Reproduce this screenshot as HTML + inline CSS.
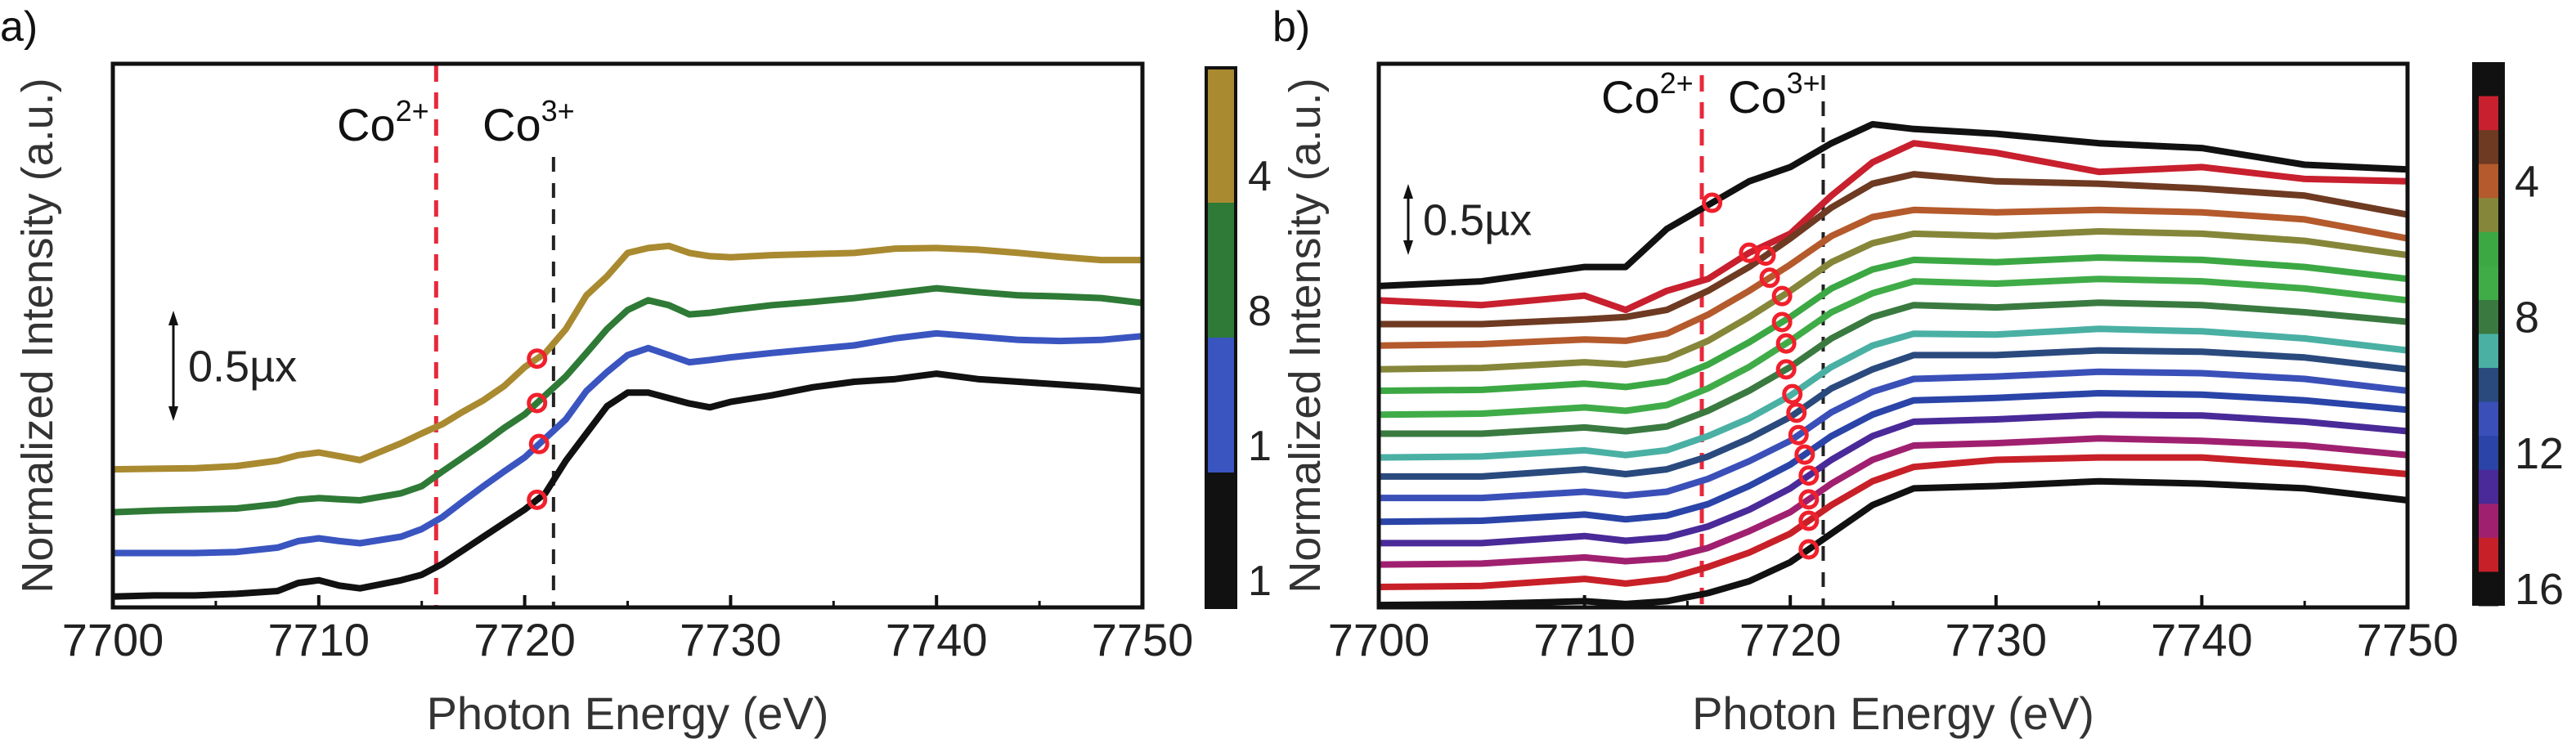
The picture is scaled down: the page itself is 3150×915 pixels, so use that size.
<!DOCTYPE html>
<html><head><meta charset="utf-8"><style>
html,body{margin:0;padding:0;background:#fff;}
svg{display:block;font-family:"Liberation Sans",Arial,sans-serif;}
</style></head><body>
<svg id="fig" width="3150" height="915" viewBox="0 0 3150 915" xmlns="http://www.w3.org/2000/svg">
<g id="pa"></g>
<g id="pb"></g>
</svg>
<script>
// ---------- Panel a data ----------
const energyA = [7700,7702,7704,7706,7708,7709,7710,7711,7712,7714,7715,7716,7717,7718,7719,7720,7721,7722,7723,7724,7725,7726,7727,7728,7729,7730,7732,7734,7736,7738,7740,7742,7744,7746,7748,7750];
const seriesA1 = [0.2,0.22,0.22,0.25,0.3,0.45,0.5,0.4,0.35,0.5,0.6,0.8,1.05,1.3,1.55,1.8,2.1,2.7,3.2,3.7,3.95,3.95,3.85,3.75,3.68,3.78,3.9,4.05,4.15,4.2,4.3,4.2,4.15,4.1,4.05,3.98];
const seriesA2 = [1.0,1.0,1.0,1.02,1.1,1.22,1.27,1.22,1.18,1.3,1.44,1.66,1.95,2.23,2.5,2.76,3.11,3.46,3.98,4.33,4.64,4.77,4.64,4.51,4.55,4.6,4.68,4.75,4.82,4.95,5.04,4.98,4.92,4.9,4.92,4.99];
const seriesA3 = [1.75,1.78,1.8,1.82,1.9,1.98,2.01,1.99,1.97,2.1,2.23,2.5,2.76,3.02,3.3,3.55,3.9,4.25,4.68,5.12,5.47,5.65,5.56,5.39,5.42,5.47,5.56,5.62,5.69,5.78,5.87,5.8,5.74,5.72,5.69,5.6];
const seriesA4 = [2.54,2.55,2.56,2.6,2.7,2.8,2.85,2.78,2.71,3.02,3.2,3.37,3.6,3.81,4.07,4.42,4.68,5.12,5.74,6.09,6.52,6.61,6.65,6.52,6.46,6.44,6.48,6.5,6.52,6.6,6.61,6.58,6.52,6.45,6.39,6.39];
const seriesAColors = ["#111111","#3a55c0","#2e7a36","#a98a30"];
const markerEA = [7720.6,7720.7,7720.6,7720.6];
const colorbarAColors = ["#a98a30","#2e7a36","#3a55c0","#111111"];
const colorbarALabels = ["4","8","1","1"];
const xTicks = [7700,7710,7720,7730,7740,7750];
const xMinor = [7705,7715,7725,7735,7745];

// ---------- Panel b data ----------
const energyB = [7700,7705,7710,7712,7714,7716,7718,7720,7722,7724,7726,7730,7735,7740,7745,7750];
const b1  = [67.5,68.5,71.5,71.5,79.5,84.5,89.5,92.5,97.5,101.5,100.5,99.5,97.5,96.5,93,92];
const b2  = [64.5,63.5,65.5,62.5,66.5,69,74.5,78.5,86.5,93.5,97.5,95.5,91.5,92.5,90,89.5];
const b3  = [59.5,59.5,60.5,61,62.5,66.5,71.5,77.5,84,89,91,89.5,89,88,86.5,82.5];
const b4  = [55,55.3,56.3,56,57.5,61.5,66.5,72,78,82,83.5,83,83.5,83,81.5,77.5];
const b5  = [50,50.3,51.5,51,52.3,56,61,66.5,72.5,76.5,78.5,78,79,78.5,77,74];
const b6  = [45.5,45.7,47,46.3,47.5,51,55.7,61,67,71,73,72.5,73.5,73,71.5,69];
const b7  = [40.5,40.7,42,41.3,42.5,46,50.5,56,62,66,68.5,68,69,68.5,67,64.5];
const b8  = [36.5,36.5,37.8,37,38,41.3,45.5,50.5,56.5,61,63.5,63,64,63.5,62,60];
const b9  = [31.5,31.7,33,32,33,36,39.7,44.5,50.5,55,57.5,57.3,58.5,58,56.5,54];
const b10 = [27.5,27.5,29,28,29,31.7,35.5,40,46,50,53,53,54,53.7,52.5,50];
const b11 = [23,23,24.3,23.5,24.3,27,30.7,35,41,45.3,48,48.5,49.5,49.2,48,45.5];
const b12 = [18,18.2,19.5,18.5,19.3,21.7,25.5,30,36,40.5,43.5,44,45,44.7,43.5,41.5];
const b13 = [13.5,13.5,15,14,14.7,17,20.5,25,31,36,39,39.5,40.5,40.3,39,37];
const b14 = [9,9.2,10.5,9.7,10.3,12.5,16,20,26,31,34,34.5,35.5,35,34,32];
const b15 = [4.3,4.5,6,5,6,8.5,11.5,15.5,21.5,26.5,29.5,31,31.5,31.5,30,28];
const b16 = [0.5,0.7,1.3,0.7,1.3,3,5.5,9.5,15.5,21.5,25,25.5,26.5,26,25,22.5];
const seriesBColors = ["#111111","#c8202e","#6e3a22","#b45a2c","#86863a","#3ca844","#40ac48","#3a7a40","#4ab0a4","#2a4a7e","#3a50b8","#2a44a8","#4a2a98","#a02070","#c82028","#111111"];
const markerEB = [7716.2,7718.0,7718.8,7719.0,7719.6,7719.6,7719.8,7719.8,7720.1,7720.3,7720.4,7720.7,7720.9,7720.9,7720.9,7720.9];
const colorbarBLabels = ["4","8","12","16"];
const colorbarBLabelIdx = [3,7,11,15];

const NS="http://www.w3.org/2000/svg";
function mk(parent,tag,attrs,txt){const e=document.createElementNS(NS,tag);for(const k in attrs)e.setAttribute(k,attrs[k]);if(txt!==undefined)e.textContent=txt;parent.appendChild(e);return e;}
function interp(xs,ys,x){for(let i=0;i<xs.length-1;i++){if(x>=xs[i]&&x<=xs[i+1]){const t=(x-xs[i])/(xs[i+1]-xs[i]);return ys[i]+t*(ys[i+1]-ys[i]);}}return ys[ys.length-1];}

function drawPanel(g,cfg){
  const {L,R,T,B,ymax}=cfg;
  const xS=e=>L+(e-7700)*(R-L)/50;
  const yS=v=>B-v*(B-T)/ymax;
  let l=mk(g,'line',{x1:xS(cfg.co2),x2:xS(cfg.co2),y1:cfg.co2Top,y2:B,stroke:'#e8283c','stroke-width':5,'stroke-dasharray':'20 13'});
  
  
  l=mk(g,'line',{x1:xS(cfg.co3),x2:xS(cfg.co3),y1:cfg.co3Top,y2:B,stroke:'#222','stroke-width':4,'stroke-dasharray':'18 14'});
  
  
  cfg.series.forEach((s,i)=>{
    const d=cfg.energy.map((e,j)=>(j?'L':'M')+xS(e).toFixed(1)+','+yS(s[j]).toFixed(1)).join(' ');
    const p=mk(g,'path',{d:d,fill:'none',stroke:cfg.colors[i],'stroke-width':8,'stroke-linejoin':'round'});
    
    
  });
  cfg.series.forEach((s,i)=>{
    const e=cfg.markers[i];
    const c=mk(g,'circle',{cx:xS(e),cy:yS(interp(cfg.energy,s,e)),r:10,fill:'none',stroke:'#f0202c','stroke-width':5});
    
    
  });
  const f=mk(g,'rect',{x:L,y:T,width:R-L,height:B-T,fill:'none',stroke:'#111','stroke-width':5});
  
  
  xTicks.forEach(t=>{
    const tk=mk(g,'line',{x1:xS(t),x2:xS(t),y1:B,y2:B-15,stroke:'#111','stroke-width':4});
    
    
    const tl=mk(g,'text',{x:xS(t),y:802,'font-size':56,'text-anchor':'middle',fill:'#222'},String(t));
    
    
  });
  xMinor.forEach(t=>{
    const tk=mk(g,'line',{x1:xS(t),x2:xS(t),y1:B,y2:B-8,stroke:'#111','stroke-width':3});
    
    
  });
  let t=mk(g,'text',{x:(L+R)/2,y:892,'font-size':56,'text-anchor':'middle',fill:'#333'},'Photon Energy (eV)');
  
  
  t=mk(g,'text',{x:0,y:0,'font-size':54,'text-anchor':'middle',fill:'#333',transform:`translate(${cfg.ytX},${(T+B)/2}) rotate(-90)`},'Normalized Intensity (a.u.)');
  
  
  t=mk(g,'text',{x:cfg.co2LabX,y:cfg.labY,'font-size':56,fill:'#111'});
  
  
  mk(t,'tspan',{},'Co');mk(t,'tspan',{'font-size':36,dy:-24},'2+');
  t=mk(g,'text',{x:cfg.co3LabX,y:cfg.labY,'font-size':56,fill:'#111'});
  
  
  mk(t,'tspan',{},'Co');mk(t,'tspan',{'font-size':36,dy:-24},'3+');
  const a=cfg.arrow;
  const ag=mk(g,'g',{});
  
  
  mk(ag,'line',{x1:a.x,x2:a.x,y1:a.y1+14,y2:a.y2-14,stroke:'#111','stroke-width':3});
  mk(ag,'polygon',{points:`${a.x-6},${a.y1+18} ${a.x+6},${a.y1+18} ${a.x},${a.y1}`,fill:'#111'});
  mk(ag,'polygon',{points:`${a.x-6},${a.y2-18} ${a.x+6},${a.y2-18} ${a.x},${a.y2}`,fill:'#111'});
  mk(ag,'text',{x:a.x+18,y:(a.y1+a.y2)/2+19,'font-size':54,fill:'#222'},'0.5µx');
  t=mk(g,'text',{x:cfg.panX,y:50,'font-size':52,fill:'#111'},cfg.panLabel);
  
  
}

const ga=document.getElementById('pa');
drawPanel(ga,{L:138,R:1397,T:78,B:743,ymax:10,energy:energyA,series:[seriesA1,seriesA2,seriesA3,seriesA4],colors:seriesAColors,markers:markerEA,
  co2:7715.7,co3:7721.4,co2Top:80,co3Top:192,co2LabX:412,co3LabX:590,labY:172,ytX:64,arrow:{x:212,y1:380,y2:515},panX:0,panLabel:'a)'});
{
  const cb=mk(ga,'g',{});
  
  
  const top=83,bot=743,h=(bot-top)/colorbarAColors.length;
  colorbarAColors.forEach((c,i)=>{
    const r=mk(cb,'rect',{x:1475,y:top+i*h,width:36,height:h+0.5,fill:c});
    
    
  });
  mk(cb,'rect',{x:1475,y:top,width:36,height:bot-top,fill:'none',stroke:'#111','stroke-width':4});
  colorbarALabels.forEach((s,i)=>{
    const t=mk(cb,'text',{x:1526,y:top+(i+0.8)*h+18,'font-size':52,fill:'#222'},s);
    
    
  });
}

const gb=document.getElementById('pb');
const seriesB=[b1,b2,b3,b4,b5,b6,b7,b8,b9,b10,b11,b12,b13,b14,b15,b16];
drawPanel(gb,{L:1686,R:2944,T:78,B:743,ymax:114.2,energy:energyB,series:seriesB,colors:seriesBColors,markers:markerEB,
  co2:7715.7,co3:7721.6,co2Top:92,co3Top:92,co2LabX:1958,co3LabX:2113,labY:138,ytX:1614,arrow:{x:1722,y1:225,y2:312},panX:1556,panLabel:'b)'});
{
  const cb=mk(gb,'g',{});
  
  
  const top=76,bot=741,h=(bot-top)/seriesBColors.length;
  mk(cb,'rect',{x:3023,y:top,width:40,height:bot-top,fill:'#111'});
  seriesBColors.forEach((c,i)=>{
    const r=mk(cb,'rect',{x:3031,y:top+i*h,width:24,height:h+0.5,fill:c});
    
    
  });
  colorbarBLabels.forEach((s,k)=>{
    const i=colorbarBLabelIdx[k];
    const t=mk(cb,'text',{x:3075,y:top+(i+0.5)*h+19,'font-size':54,fill:'#222'},s);
    
    
  });
}
</script>
</body></html>
